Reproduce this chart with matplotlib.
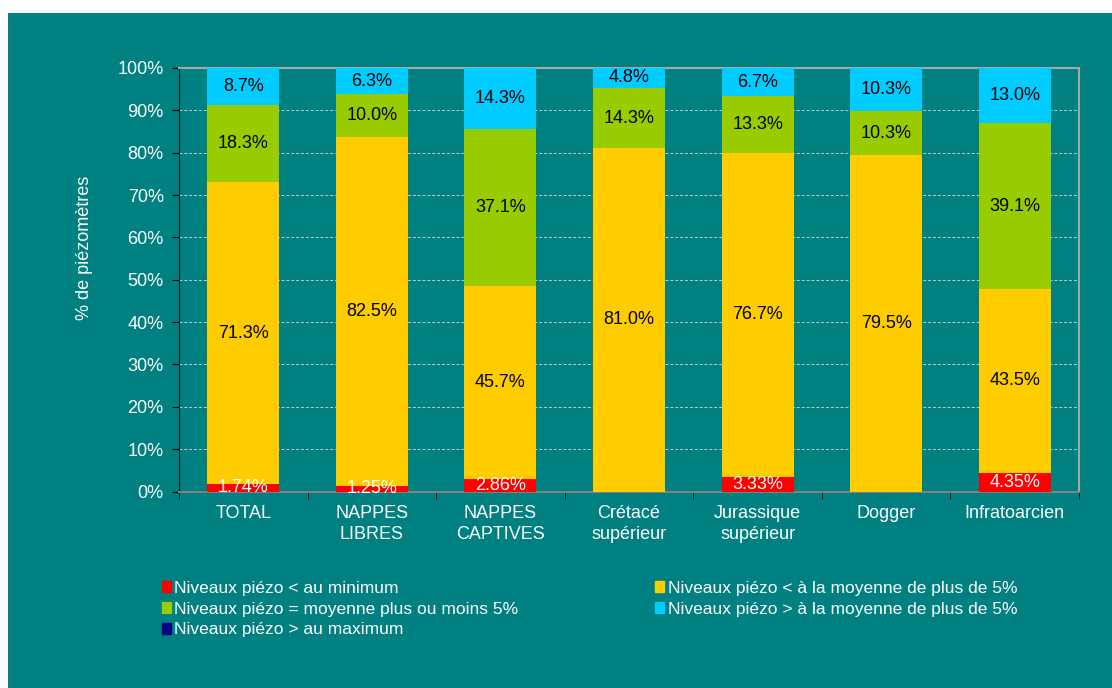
import numpy as np
import matplotlib
matplotlib.use("Agg")
import matplotlib.pyplot as plt
from matplotlib.patches import Rectangle, Patch

plt.rcParams["font.family"] = ["Liberation Sans", "DejaVu Sans"]

categories = ["TOTAL", "NAPPES\nLIBRES", "NAPPES\nCAPTIVES", "Crétacé\nsupérieur",
              "Jurassique\nsupérieur", "Dogger", "Infratoarcien"]

# % of piezometers per class
below_min = [1.74, 1.25, 2.86, 0.0, 3.33, 0.0, 4.35]
below_mean = [71.3, 82.5, 45.7, 81.0, 76.7, 79.5, 43.5]
around_mean = [18.3, 10.0, 37.1, 14.3, 13.3, 10.3, 39.1]
above_mean = [8.7, 6.3, 14.3, 4.8, 6.7, 10.3, 13.0]
above_max = [0.0, 0.0, 0.0, 0.0, 0.0, 0.0, 0.0]

series = [
    ("Niveaux piézo < au minimum", below_min, "#FF0000", "{:.2f}%", "white"),
    ("Niveaux piézo < à la moyenne de plus de 5%", below_mean, "#FFCC00", "{:.1f}%", "black"),
    ("Niveaux piézo = moyenne plus ou moins 5%", around_mean, "#99CC00", "{:.1f}%", "black"),
    ("Niveaux piézo > à la moyenne de plus de 5%", above_mean, "#00CCFF", "{:.1f}%", "black"),
    ("Niveaux piézo > au maximum", above_max, "#000080", "{:.1f}%", "white"),
]

teal = "#008080"

fig = plt.figure(figsize=(11.12, 6.88), dpi=100, facecolor="white")
fig.patches.append(Rectangle((8 / 1112, 0), 1 - 8 / 1112, (688 - 13) / 688,
                             transform=fig.transFigure, facecolor=teal,
                             edgecolor="none", zorder=-10))

ax = fig.add_axes([179 / 1112, (688 - 491.5) / 688, 900 / 1112, 423.5 / 688])
ax.set_facecolor(teal)

x = np.arange(len(categories))
bottom = np.zeros(len(categories))
for name, vals, color, fmt, tcol in series:
    vals = np.array(vals)
    ax.bar(x, vals, 0.56, bottom=bottom, color=color, edgecolor="none", zorder=3)
    for xi, v, b in zip(x, vals, bottom):
        if v > 0:
            ax.text(xi, b + v / 2, fmt.format(v), ha="center", va="center",
                    fontsize=13, color=tcol, zorder=4)
    bottom += vals

ax.set_xlim(-0.5, len(categories) - 0.5)
ax.set_ylim(0, 100)
ax.set_yticks(np.arange(0, 101, 10))
ax.set_yticklabels([f"{v}%" for v in range(0, 101, 10)], fontsize=13, color="white")
ax.yaxis.grid(True, linestyle=(0, (3, 2)), color="#C8C8C8", linewidth=0.7, zorder=1)

ax.set_xticks(x)
ax.set_xticklabels(categories, fontsize=13, color="white", linespacing=1.3)
ax.tick_params(axis="x", length=0, pad=10)
ax.set_xticks(np.arange(-0.5, len(categories), 1), minor=True)
ax.tick_params(axis="x", which="minor", length=5, color="black", direction="out")
ax.tick_params(axis="y", length=5, color="black", direction="out", pad=6)

ax.set_ylabel("% de piézomètres", fontsize=13, color="white")
ax.yaxis.set_label_coords(-0.0956, 0.575)

for side in ["top", "right"]:
    ax.spines[side].set_color("#A8A8A8")
    ax.spines[side].set_linewidth(1.5)
ax.spines["left"].set_color("black")
ax.spines["bottom"].set_color("#808080")
ax.spines["bottom"].set_linewidth(1.5)

handles = [Patch(color=s[2], label=s[0]) for s in series]
order = [0, 2, 4, 1, 3]
leg = fig.legend([handles[i] for i in order], [series[i][0] for i in order],
                 ncol=2, loc="upper left", bbox_to_anchor=(155 / 1112, 1 - 574 / 688),
                 frameon=False, fontsize=12.5, handlelength=0.5, handleheight=0.6,
                 handletextpad=0.2, columnspacing=7.9, labelspacing=0.33,
                 labelcolor="white", borderaxespad=0)

fig.savefig("out.png", dpi=100, facecolor=fig.get_facecolor())
